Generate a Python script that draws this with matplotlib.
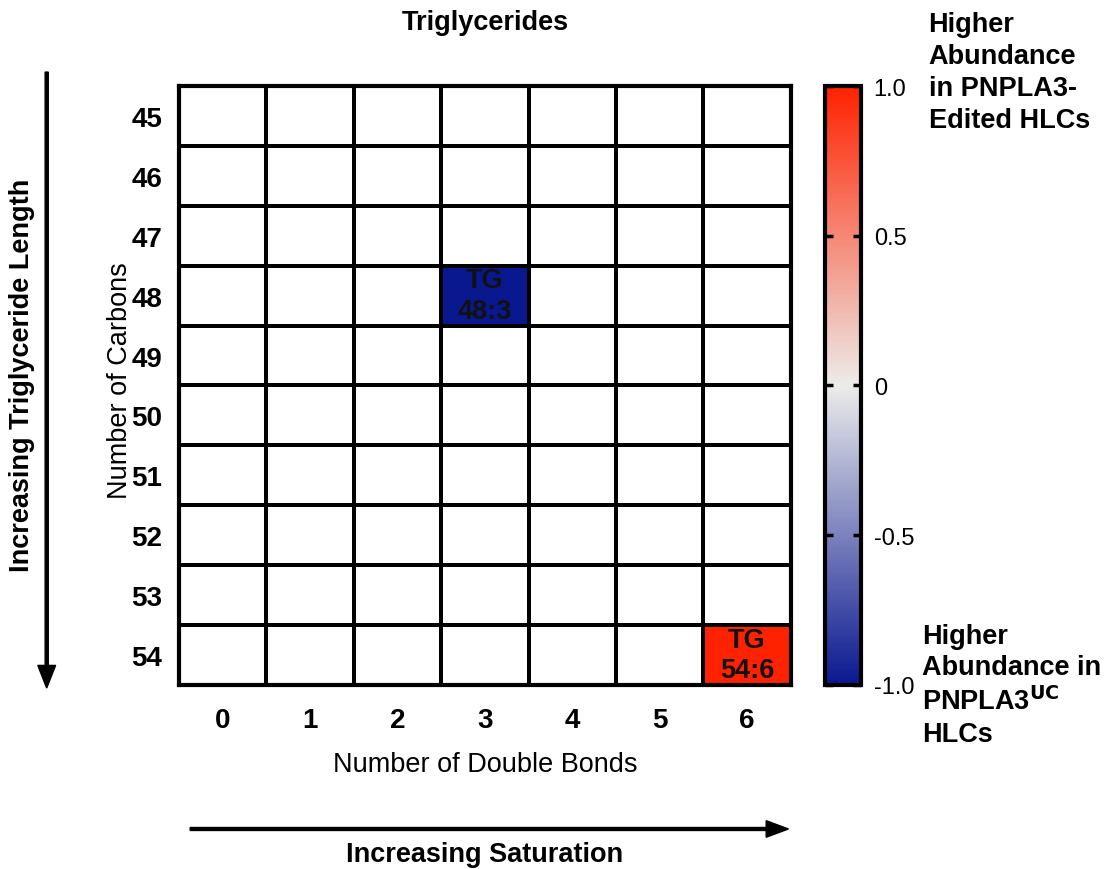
#Heatmap of triglyceride abundance change by carbons / double bonds
import numpy as np
import matplotlib.pyplot as plt
from matplotlib.colors import LinearSegmentedColormap
from matplotlib.patches import FancyArrow

plt.rcParams['font.family'] = ['Liberation Sans', 'DejaVu Sans']

#Axis categories
double_bonds = [0, 1, 2, 3, 4, 5, 6]
carbons = [45, 46, 47, 48, 49, 50, 51, 52, 53, 54]

#Significant species (name, carbons, double bonds, value)
species = ["TG\n48:3", "TG\n54:6"]
species_carbons = [48, 54]
species_bonds = [3, 6]
species_values = [-1.0, 1.0]

#Build the grid, empty cells are NaN
grid = np.full((len(carbons), len(double_bonds)), np.nan)
for c, b, v in zip(species_carbons, species_bonds, species_values):
    grid[carbons.index(c), double_bonds.index(b)] = v

cmap = LinearSegmentedColormap.from_list("bwr_custom", ["#0A1890", "#ECECEA", "#FF2200"])
cmap.set_bad("white")

fig = plt.figure(figsize=(11.12, 8.70), dpi=100)
ax = fig.add_axes([0.161, 0.2115, 0.550, 0.6885])
cax = fig.add_axes([0.742, 0.2115, 0.0324, 0.6885])

mesh = ax.pcolormesh(np.ma.masked_invalid(grid), cmap=cmap, vmin=-1, vmax=1,
                     edgecolors="black", linewidth=1.6)
ax.set_xlim(0, len(double_bonds))
ax.set_ylim(len(carbons), 0)

#Cell labels
for name, c, b in zip(species, species_carbons, species_bonds):
    ax.text(double_bonds.index(b) + 0.5, carbons.index(c) + 0.5, name,
            ha="center", va="center", fontsize=19.5, fontweight="bold",
            color="#111111", linespacing=1.22)

#Ticks
ax.set_xticks(np.arange(len(double_bonds)) + 0.5)
ax.set_xticklabels([str(b) for b in double_bonds], fontsize=20, fontweight="bold")
ax.set_yticks(np.arange(len(carbons)) + 0.5)
ax.set_yticklabels([str(c) for c in carbons], fontsize=20, fontweight="bold")
ax.tick_params(axis="y", length=0, pad=12)
ax.tick_params(axis="x", length=0, pad=16)
for s in ax.spines.values():
    s.set_linewidth(3)

ax.set_xlabel("Number of Double Bonds", fontsize=19.5)
ax.xaxis.set_label_coords(0.5, -0.111)
ax.set_ylabel("Number of Carbons", fontsize=19.5)
ax.yaxis.set_label_coords(-0.075, 0.51)

#Colorbar
cb = fig.colorbar(mesh, cax=cax, ticks=[-1.0, -0.5, 0, 0.5, 1.0])
cb.ax.set_yticklabels(["-1.0", "-0.5", "0", "0.5", "1.0"])
cb.ax.tick_params(labelsize=17, direction="in", length=6, width=2.5, pad=9,
                  left=True, right=True)
cb.outline.set_linewidth(3)

#Side annotations
fig.text(0.835, 0.986, "Higher\nAbundance\nin PNPLA3-\nEdited HLCs", ha="left", va="top",
         fontsize=19.5, fontweight="bold", linespacing=1.30)
fig.text(0.829, 0.283, "Higher\nAbundance in\nPNPLA3$^{\\mathbf{UC}}$\nHLCs", ha="left", va="top",
         fontsize=19.5, fontweight="bold", linespacing=1.28)

#Title and direction arrows
fig.text(0.436, 0.974, "Triglycerides", ha="center", va="center", fontsize=19.5, fontweight="bold")
fig.text(0.436, 0.017, "Increasing Saturation", ha="center", va="center", fontsize=19.5, fontweight="bold")
fig.text(0.020, 0.569, "Increasing Triglyceride Length", ha="center", va="center",
         rotation=90, fontsize=19.5, fontweight="bold")

fig.patches.append(FancyArrow(
    0.042, 0.916, 0, -0.708, width=0.0028, head_width=0.016, head_length=0.026,
    length_includes_head=True, color="black", transform=fig.transFigure))
fig.patches.append(FancyArrow(
    0.171, 0.046, 0.538, 0, width=0.0034, head_width=0.019, head_length=0.020,
    length_includes_head=True, color="black", transform=fig.transFigure))

plt.savefig("out.png", dpi=100)
plt.close(fig)
